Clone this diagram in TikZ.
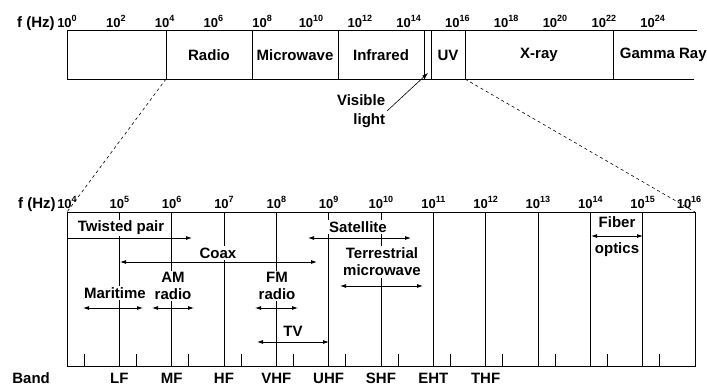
\documentclass[tikz,border=0pt]{standalone}
\usepackage{fontspec}
\setmainfont{Liberation Sans}
\usetikzlibrary{arrows.meta}

\newcommand\lblfont{\fontsize{15}{17}\selectfont\bfseries}
\newcommand\numfont{\fontsize{13}{15}\selectfont\bfseries}
\newcommand\pw[1]{10\raisebox{0.45em}{\fontsize{9}{9}\selectfont #1}}

\begin{document}
\begin{tikzpicture}[x=1pt, y=-1pt, line width=0.8pt,
		arrow/.style={-{Latex[length=6pt,width=4pt]}},
		span/.style={{Latex[length=6pt,width=4pt]}-{Latex[length=6pt,width=4pt]}},
		lbl/.style={font=\lblfont, inner sep=1.5pt},
		cover/.style={lbl, fill=white, align=center},
		num/.style={font=\numfont, anchor=base, inner sep=0pt},
	]
		\useasboundingbox (0,0) rectangle (707,389);

		% upper scale
		\node[lbl, anchor=base east, inner sep=0pt] (ftop) at (55,27) {f (Hz)};
		\foreach \n in {0,2,...,24}
			\node[num] (t\n) at ({67+24.4*\n},27) {\pw{\n}};
		\draw (697,30) -- (67,30) -- (67,79) -- (694,79);
		\foreach \x in {166,252,338,424,431,465,613}
			\draw (\x,30) -- (\x,79);
		\node[lbl] (radio) at (209,55) {Radio};
		\node[lbl] (micro) at (295,55) {Microwave};
		\node[lbl] (infra) at (381,55) {Infrared};
		\node[lbl] (uv) at (448,55) {UV};
		\node[lbl] (xray) at (539,55) {X-ray};
		\node[lbl, anchor=west] (gamma) at (618,55) {Gamma Ray};

		\node[lbl, align=right, anchor=east] (vis) at (387,111) {Visible\\[2pt]light};
		\coordinate (vlt) at (428,73);
		\draw[arrow, line width=0.6pt] (vis.east) -- (vlt);

		% zoom lines
		\coordinate (zl) at (166,79);
		\coordinate (zr) at (465,79);
		\coordinate (bnw) at (67,212);
		\coordinate (bne) at (695,212);
		\draw[dashed, line width=0.6pt, dash pattern=on 3pt off 3pt] (zl) -- (bnw);
		\draw[dashed, line width=0.6pt, dash pattern=on 3pt off 3pt] (zr) -- (bne);

		% lower scale
		\node[lbl, anchor=base east, inner sep=0pt] (fbot) at (56,208) {f (Hz)};
		\foreach \n in {4,...,15}
			\node[num] (b\n) at ({67+52.33*(\n-4)},208) {\pw{\n}};
		\node[num] (b16) at (689,208) {\pw{16}};
		\draw (bnw) rectangle (695,366);
		\foreach \n in {5,...,15}
			\draw ({67+52.33*(\n-4)},212) -- ({67+52.33*(\n-4)},366);
		\foreach \n in {4,...,15}
			\draw ({84+52.33*(\n-4)},366) -- ++(0,-12);

		% bands
		\node[lbl, anchor=base west, inner sep=0pt] (band) at (12,383) {Band};
		\foreach \b [count=\i from 5] in {LF,MF,HF,VHF,UHF,SHF,EHT,THF}
			\node[lbl, anchor=base, inner sep=0pt] (band\b) at ({67+52.33*(\i-4)},383) {\b};

		% media
		\coordinate (tp-l) at (67,238);
		\coordinate (tp-r) at (192,238);
		\draw[arrow] (tp-l) -- (tp-r);
		\foreach \nm/\xa/\xb/\y in {coax/120/317/262, sat/308/411/238, terr/340/423/286,
				mar/83/143/308, am/152/194/308, fm/255/298/308, tv/257/329/342, fib/591/643/236}{
			\coordinate (\nm-l) at (\xa,\y);
			\coordinate (\nm-r) at (\xb,\y);
			\draw[span] (\nm-l) -- (\nm-r);
		}
		\node[cover] (twisted) at (121,228) {Twisted pair};
		\node[cover] (coax) at (218,253) {Coax};
		\node[cover] (sat) at (358,227) {Satellite};
		\node[cover] (terr) at (382,262) {Terrestrial\\microwave};
		\node[cover] (mar) at (115,293) {Maritime};
		\node[cover] (am) at (173,286) {AM\\radio};
		\node[cover] (fm) at (277,286) {FM\\radio};
		\node[lbl] (tv) at (293,331) {TV};
		\node[lbl] (fiber) at (617,222) {Fiber};
		\node[lbl] (optics) at (617,250) {optics};
	\end{tikzpicture}
\end{document}
